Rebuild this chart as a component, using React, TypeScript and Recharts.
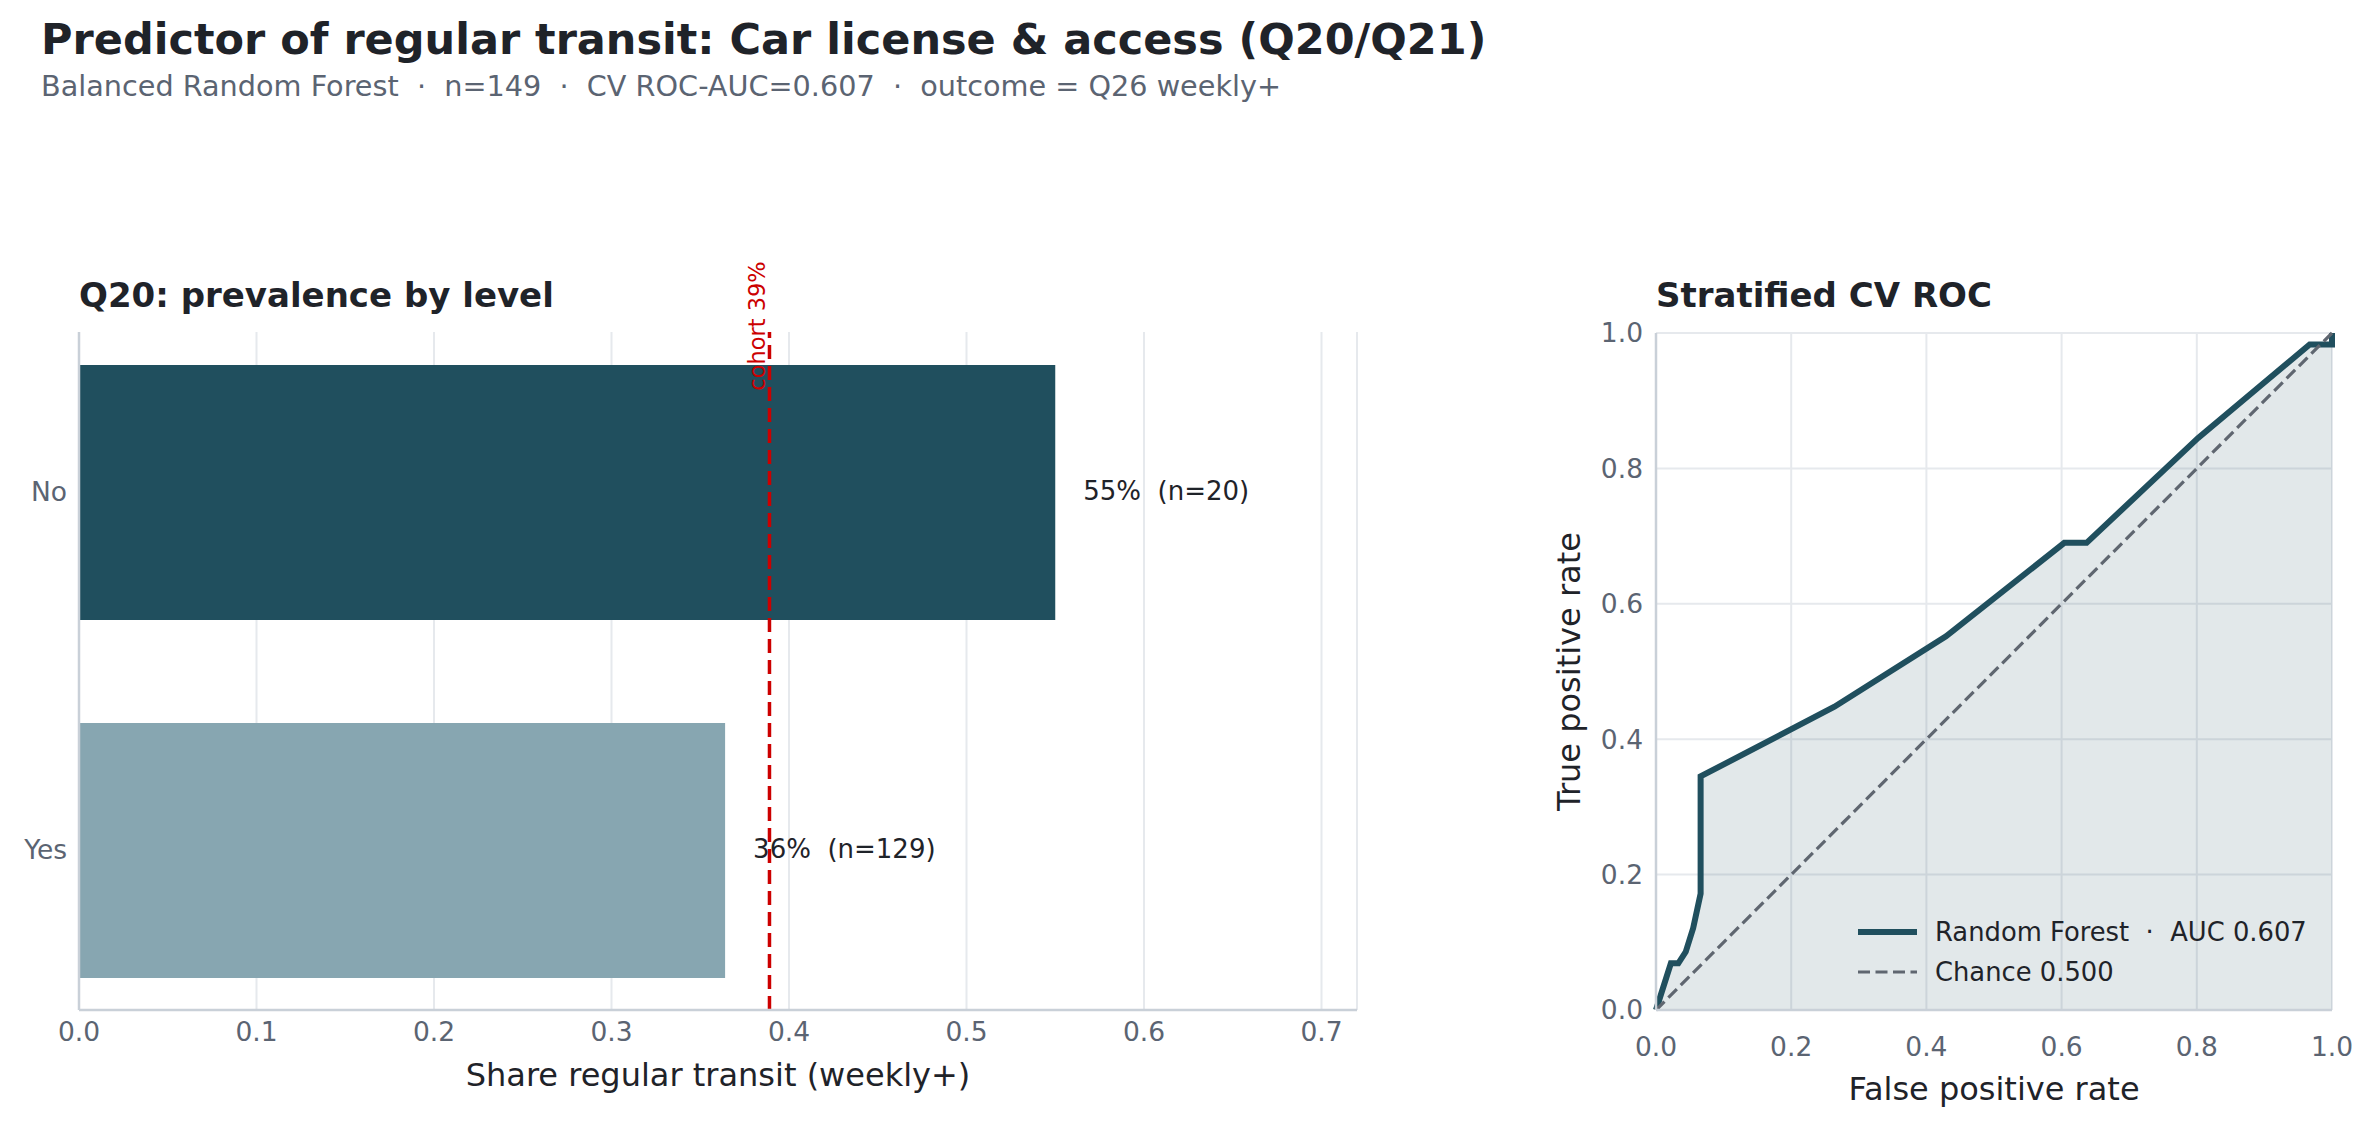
import React from "react";
import {
  BarChart,
  Bar,
  Cell,
  XAxis,
  YAxis,
  CartesianGrid,
  ReferenceLine,
  LabelList,
  Label,
  ComposedChart,
  Area,
  Line,
  Legend,
} from "recharts";

// Q20 prevalence by level
const levels = ["No", "Yes"];
const shares = [0.55, 0.364];
const counts = [20, 129];
const barColors = ["#204f5e", "#87a6b1"];
const cohortShare = 0.389;
const shareTicks = [0, 0.1, 0.2, 0.3, 0.4, 0.5, 0.6, 0.7];

// stratified CV ROC
const rocFpr = [0, 0.022, 0.033, 0.044, 0.055, 0.066, 0.066, 0.264, 0.429, 0.604, 0.637, 0.802, 0.967, 1.0, 1.0];
const rocTpr = [0, 0.069, 0.069, 0.086, 0.121, 0.172, 0.345, 0.448, 0.552, 0.69, 0.69, 0.845, 0.983, 0.983, 1.0];
const chanceFpr = [0, 1];
const chanceTpr = [0, 1];
const rateTicks = [0, 0.2, 0.4, 0.6, 0.8, 1.0];
const rocAuc = 0.607;
const chanceAuc = 0.5;

const barData = levels.map((level, i) => ({ level, share: shares[i], n: counts[i] }));
const rocData = rocFpr.map((fpr, i) => ({ fpr, tpr: rocTpr[i] }));
const chanceData = chanceFpr.map((fpr, i) => ({ fpr, tpr: chanceTpr[i] }));

const FONT = '"DejaVu Sans", sans-serif';
const INK = "#1f2329";
const MUTED = "#5b6472";
const SPINE = "#c9d0d8";
const GRID = "#e6e9ed";
const RED = "#cc0000";

const tickStyle = { fill: MUTED, fontSize: 26.5 };
const fmt1 = (v) => Number(v).toFixed(1);

const BarValueLabel = (props) => {
  const { x, y, width, height, index } = props;
  const d = barData[index];
  return (
    <text
      x={x + width + 28}
      y={y + height / 2 - 2}
      dy="0.355em"
      fill={INK}
      fontSize={26}
      style={{ whiteSpace: "pre" }}
    >
      {`${Math.round(d.share * 100)}%  (n=${d.n})`}
    </text>
  );
};

const CohortLabel = ({ viewBox }) => {
  const x = viewBox.x - 12;
  const y = viewBox.y - 6;
  return (
    <text
      x={x}
      y={y}
      dy="0.355em"
      textAnchor="middle"
      transform={`rotate(-90 ${x} ${y})`}
      fill={RED}
      fontSize={22.5}
    >
      {`cohort ${Math.round(cohortShare * 100)}%`}
    </text>
  );
};

const RotatedAxisLabel = ({ viewBox, value }) => {
  const x = viewBox.x + viewBox.width - 87;
  const y = viewBox.y + viewBox.height / 2;
  return (
    <text
      x={x}
      y={y}
      dy="0.355em"
      textAnchor="middle"
      transform={`rotate(-90 ${x} ${y})`}
      fill={INK}
      fontSize={32}
    >
      {value}
    </text>
  );
};

const legendItems = [
  { label: `Random Forest  ·  AUC ${rocAuc.toFixed(3)}`, color: "#204f5e", width: 6, dash: undefined },
  { label: `Chance ${chanceAuc.toFixed(3)}`, color: "#5f6670", width: 3.2, dash: "12 5.5" },
];

const RocLegend = () => (
  <div style={{ fontFamily: FONT }}>
    {legendItems.map((it) => (
      <div key={it.label} style={{ display: "flex", alignItems: "center", height: 40 }}>
        <svg width={77} height={40}>
          <line x1={0} x2={59} y1={20} y2={20} stroke={it.color} strokeWidth={it.width} strokeDasharray={it.dash} />
        </svg>
        <span style={{ fontSize: 25.8, color: INK, whiteSpace: "pre", lineHeight: "40px" }}>{it.label}</span>
      </div>
    ))}
  </div>
);

export default function App() {
  return (
    <div
      style={{
        position: "absolute",
        left: 0,
        top: 0,
        width: 2376,
        height: 1130,
        background: "#ffffff",
        fontFamily: FONT,
        overflow: "hidden",
      }}
    >
      <svg width={2376} height={1130} style={{ position: "absolute", left: 0, top: 0 }}>
        <text x={41} y={54} fontSize={43} fontWeight="bold" fill={INK}>
          {"Predictor of regular transit: Car license & access (Q20/Q21)"}
        </text>
        <text x={41} y={96} fontSize={28.7} fill={MUTED} style={{ whiteSpace: "pre" }}>
          {"Balanced Random Forest  ·  n=149  ·  CV ROC-AUC=0.607  ·  outcome = Q26 weekly+"}
        </text>
        <text x={79} y={307} fontSize={34} fontWeight="bold" fill={INK}>
          Q20: prevalence by level
        </text>
        <text x={1656} y={307} fontSize={34} fontWeight="bold" fill={INK}>
          Stratified CV ROC
        </text>
      </svg>

      <div style={{ position: "absolute", left: 0, top: 0 }}>
        <BarChart
          width={1400}
          height={1130}
          layout="vertical"
          data={barData}
          barSize={255}
          margin={{ top: 332, right: 43, bottom: 0, left: 0 }}
        >
          <CartesianGrid horizontal={false} stroke={GRID} strokeWidth={2} />
          <XAxis
            type="number"
            dataKey="share"
            domain={[0, 0.72]}
            ticks={shareTicks}
            interval={0}
            allowDataOverflow
            tickFormatter={fmt1}
            height={120}
            axisLine={{ stroke: SPINE, strokeWidth: 2.5 }}
            tickLine={false}
            tickSize={0}
            tickMargin={12}
            tick={tickStyle}
          >
            <Label value="Share regular transit (weekly+)" position="insideBottom" offset={44} fill={INK} fontSize={32} />
          </XAxis>
          <YAxis
            type="category"
            dataKey="level"
            width={79}
            padding={{ top: -19, bottom: -19 }}
            axisLine={{ stroke: SPINE, strokeWidth: 2.5 }}
            tickLine={false}
            tickSize={0}
            tickMargin={12}
            tick={tickStyle}
          />
          <Bar dataKey="share" isAnimationActive={false}>
            {barData.map((d, i) => (
              <Cell key={d.level} fill={barColors[i]} />
            ))}
            <LabelList dataKey="share" content={<BarValueLabel />} />
          </Bar>
          <ReferenceLine
            x={cohortShare}
            stroke={RED}
            strokeWidth={3.5}
            strokeDasharray="14 7"
            label={<CohortLabel />}
          />
        </BarChart>
      </div>

      <div style={{ position: "absolute", left: 1450, top: 0 }}>
        <ComposedChart
          width={926}
          height={1130}
          data={rocData}
          margin={{ top: 333, right: 44, bottom: 0, left: 0 }}
        >
          <CartesianGrid stroke={GRID} strokeWidth={2} />
          <XAxis
            type="number"
            dataKey="fpr"
            domain={[0, 1]}
            ticks={rateTicks}
            interval={0}
            tickFormatter={fmt1}
            height={120}
            axisLine={{ stroke: SPINE, strokeWidth: 2.5 }}
            tickLine={false}
            tickSize={0}
            tickMargin={27}
            tick={tickStyle}
          >
            <Label value="False positive rate" position="insideBottom" offset={30} fill={INK} fontSize={32} />
          </XAxis>
          <YAxis
            type="number"
            domain={[0, 1]}
            ticks={rateTicks}
            interval={0}
            tickFormatter={fmt1}
            width={206}
            axisLine={{ stroke: SPINE, strokeWidth: 2.5 }}
            tickLine={false}
            tickSize={0}
            tickMargin={13}
            tick={tickStyle}
          >
            <Label value="True positive rate" content={<RotatedAxisLabel />} />
          </YAxis>
          <Area
            type="linear"
            dataKey="tpr"
            stroke="#204f5e"
            strokeWidth={6}
            fill="#204f5e"
            fillOpacity={0.13}
            dot={false}
            activeDot={false}
            isAnimationActive={false}
          />
          <Line
            data={chanceData}
            type="linear"
            dataKey="tpr"
            stroke="#5f6670"
            strokeWidth={3.2}
            strokeDasharray="12 5.5"
            dot={false}
            activeDot={false}
            isAnimationActive={false}
          />
          <Legend
            layout="vertical"
            align="center"
            verticalAlign="middle"
            wrapperStyle={{ left: 408, top: 912, width: "auto" }}
            content={<RocLegend />}
          />
        </ComposedChart>
      </div>
    </div>
  );
}
